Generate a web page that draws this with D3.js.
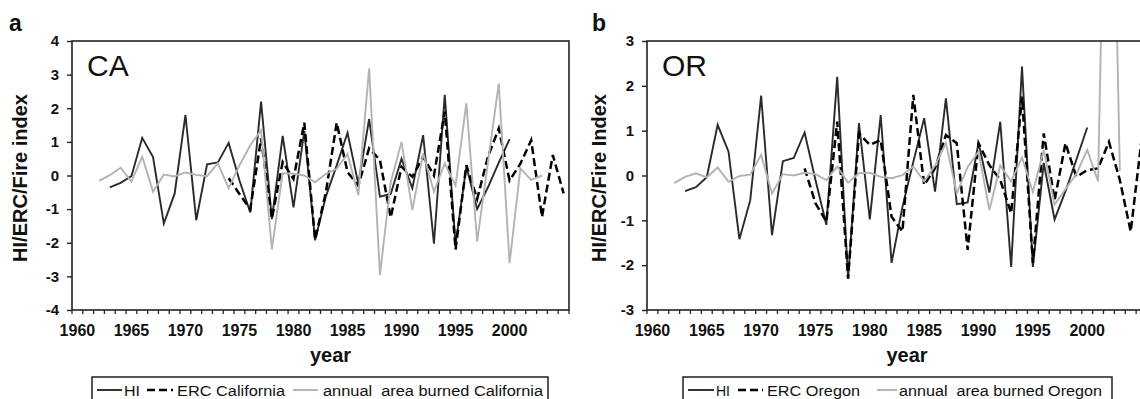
<!DOCTYPE html>
<html><head><meta charset="utf-8">
<script src="https://cdn.jsdelivr.net/npm/d3@7"></script>
<style>
body{margin:0;background:#fff}
svg{display:block}
text{font-family:"Liberation Sans",Arial,Helvetica,sans-serif;fill:#111}
</style>
</head><body>
<svg id="c" width="1140" height="399"></svg>
<script>
// ---- data ----
const years = [1960,1961,1962,1963,1964,1965,1966,1967,1968,1969,
  1970,1971,1972,1973,1974,1975,1976,1977,1978,1979,
  1980,1981,1982,1983,1984,1985,1986,1987,1988,1989,
  1990,1991,1992,1993,1994,1995,1996,1997,1998,1999,
  2000,2001,2002,2003,2004,2005];
const xTickLabels = [1960,1965,1970,1975,1980,1985,1990,1995,2000];
const yTicksCA = [-4,-3,-2,-1,0,1,2,3,4];
const yTicksOR = [-3,-2,-1,0,1,2,3];

// California panel (values indexed by years, null = no data)
const hiCA = [null,null,null,-0.35,-0.22,-0.02,1.12,0.55,-1.43,-0.54,
  1.80,-1.33,0.33,0.39,0.97,-0.15,-1.10,2.20,-1.30,1.18,
  -0.95,1.32,-1.93,-0.62,0.30,1.27,-0.25,1.68,-0.63,-0.55,
  0.50,-0.38,1.20,-2.03,2.40,-2.05,0.27,-1.00,-0.35,0.38,
  1.08,null,null,null,null,null];
const ercCA = [null,null,null,null,null,null,null,null,null,null,
  null,null,null,null,-0.08,-0.55,-1.00,1.10,-1.28,0.40,
  -0.10,1.57,-1.90,-0.50,1.57,0.10,-0.30,0.81,0.46,-1.25,
  0.26,-0.04,0.56,0.00,1.90,-2.20,0.31,-0.70,0.56,1.40,
  -0.15,0.35,1.05,-1.23,0.61,-0.53];
const areaCA = [null,null,-0.16,0.01,0.23,-0.18,0.56,-0.48,0.03,-0.03,
  0.09,0.02,-0.02,0.36,-0.38,0.30,0.90,1.35,-2.20,0.07,
  0.05,0.00,-0.20,0.05,0.20,0.64,-0.58,3.19,-2.96,-0.20,
  1.00,-1.03,0.66,-0.48,0.36,-0.30,2.15,-1.97,0.40,2.74,
  -2.61,0.21,-0.13,0.00,null,null];

// Oregon panel
const hiOR = [null,null,null,-0.35,-0.26,-0.04,1.13,0.53,-1.42,-0.55,
  1.78,-1.33,0.32,0.39,0.96,-0.10,-1.10,2.20,-2.30,1.17,
  -0.98,1.35,-1.95,-0.70,0.30,1.28,-0.36,1.72,-0.64,-0.60,
  0.73,-0.38,1.20,-2.04,2.43,-2.04,0.28,-0.98,-0.35,0.35,
  1.07,null,null,null,null,null];
const ercOR = [null,null,null,null,null,null,null,null,null,null,
  null,null,null,null,0.16,-0.62,-1.03,1.20,-2.30,0.94,
  0.68,0.79,-0.92,-1.25,1.80,-0.21,0.16,0.90,0.72,-1.66,
  0.72,0.23,-0.10,-0.84,1.76,-1.95,0.94,-0.55,0.72,-0.03,
  0.12,0.16,0.75,-0.10,-1.25,0.80];
const areaOR = [null,null,-0.17,-0.03,0.05,-0.04,0.18,-0.14,-0.01,0.02,
  0.46,-0.40,0.03,0.00,0.06,0.03,-0.10,0.20,-0.16,0.05,
  0.06,-0.03,-0.06,0.01,0.20,-0.13,0.22,0.72,-0.40,0.19,
  0.53,-0.77,0.22,-0.13,0.40,-0.37,0.57,-0.65,-0.30,0.03,
  0.57,-0.13,12.0,0.10,null,null];

const legendCA = ["HI","ERC California","annual  area burned California"];
const legendOR = ["HI","ERC Oregon","annual  area burned Oregon"];

// ---- drawing ----
const svg = d3.select("#c");
const styles = [
  {stroke:"#2a2a2a", width:1.9, dash:null},
  {stroke:"#000", width:2.5, dash:"8,4"},
  {stroke:"#b3b3b3", width:1.9, dash:null}
];

function panel(cfg){
  const g = svg.append("g");
  const x = d3.scaleBand().domain(years).range([cfg.left, cfg.right]).padding(0);
  const bw = x.bandwidth();
  const y = d3.scaleLinear().domain(cfg.yDomain).range([cfg.bottom, cfg.top]);

  const clipId = "clip" + cfg.id;
  svg.append("clipPath").attr("id", clipId).append("rect")
    .attr("x", cfg.left).attr("y", cfg.top)
    .attr("width", cfg.right - cfg.left).attr("height", cfg.bottom - cfg.top);

  // series
  const line = d3.line()
    .defined(d => d.v != null)
    .x(d => x(d.year) + bw/2)
    .y(d => y(d.v));
  cfg.series.forEach((vals, i) => {
    const pts = years.map((yr, k) => ({year: yr, v: vals[k]}));
    g.append("path").datum(pts)
      .attr("clip-path", `url(#${clipId})`)
      .attr("fill","none")
      .attr("stroke", styles[i].stroke)
      .attr("stroke-width", styles[i].width)
      .attr("stroke-dasharray", styles[i].dash)
      .attr("stroke-linejoin","miter")
      .attr("d", line);
  });

  // frame
  g.append("rect").attr("x", cfg.left).attr("y", cfg.top)
    .attr("width", cfg.right - cfg.left).attr("height", cfg.bottom - cfg.top)
    .attr("fill","none").attr("stroke","#222").attr("stroke-width",1.6);

  // y axis
  const ya = d3.axisLeft(y).tickValues(cfg.yTicks).tickSize(5).tickPadding(8)
    .tickFormat(d => String(d));
  const yg = g.append("g").attr("transform", `translate(${cfg.left},0)`).call(ya);
  yg.select(".domain").remove();
  yg.selectAll(".tick line").attr("stroke","#222").attr("stroke-width",1.4);
  yg.selectAll(".tick text").attr("font-size",15).attr("font-weight","bold")
    .attr("font-family",'"Liberation Sans",Arial,sans-serif').attr("fill","#111");

  // x axis ticks at category boundaries
  const bounds = years.map(yr => x(yr)).concat([x(years[years.length-1]) + bw]);
  g.selectAll(".xt").data(bounds).enter().append("line")
    .attr("x1", d => d).attr("x2", d => d)
    .attr("y1", cfg.bottom).attr("y2", cfg.bottom + 4)
    .attr("stroke","#222").attr("stroke-width",1.3);
  g.selectAll(".xl").data(xTickLabels).enter().append("text")
    .attr("x", d => x(d) + bw/2).attr("y", cfg.bottom + 26)
    .attr("text-anchor","middle").attr("font-size",16).attr("font-weight","bold")
    .text(d => d);

  // axis titles
  g.append("text").attr("x", (cfg.left + cfg.right)/2 + 10).attr("y", 362)
    .attr("text-anchor","middle").attr("font-size",20).attr("font-weight","bold")
    .text("year");
  g.append("text")
    .attr("transform", `translate(${cfg.ytitleX},178) rotate(-90)`)
    .attr("text-anchor","middle").attr("font-size",20).attr("font-weight","bold")
    .text(cfg.ytitle);

  // panel letter and region label
  g.append("text").attr("x", cfg.letterX).attr("y", 31)
    .attr("font-size",23).attr("font-weight","bold").text(cfg.letter);
  g.append("text").attr("x", cfg.left + 15).attr("y", 76)
    .attr("font-size",30).text(cfg.region);

  // legend
  const L = cfg.legend;
  g.append("rect").attr("x", L.x).attr("y", 377).attr("width", L.w).attr("height", 30)
    .attr("fill","#fff").attr("stroke","#111").attr("stroke-width",1.4);
  L.items.forEach((it, i) => {
    g.append("line").attr("x1", it.l0).attr("x2", it.l1).attr("y1", 390).attr("y2", 390)
      .attr("stroke", styles[i].stroke).attr("stroke-width", styles[i].width)
      .attr("stroke-dasharray", styles[i].dash);
    g.append("text").attr("x", it.tx).attr("y", 396)
      .attr("font-size",14).attr("textLength", it.tw).attr("lengthAdjust","spacingAndGlyphs")
      .style("white-space","pre")
      .text(cfg.legendText[i]);
  });
}

panel({
  id:"a", left:72, right:569, top:41, bottom:310,
  yDomain:[-4,4], yTicks:yTicksCA,
  series:[hiCA, ercCA, areaCA],
  ytitle:"HI/ERC/Fire index", ytitleX:27,
  letter:"a", letterX:9, region:"CA",
  legendText: legendCA,
  legend:{x:92, w:456, items:[
    {l0:97,l1:122,tx:124,tw:16},
    {l0:147,l1:173,tx:177,tw:108},
    {l0:293,l1:318,tx:323,tw:220}]}
});
panel({
  id:"b", left:647, right:1147, top:41, bottom:310,
  yDomain:[-3,3], yTicks:yTicksOR,
  series:[hiOR, ercOR, areaOR],
  ytitle:"HI/ERC/Fire Index", ytitleX:606,
  letter:"b", letterX:592, region:"OR",
  legendText: legendOR,
  legend:{x:683, w:429, items:[
    {l0:688,l1:714,tx:716,tw:14},
    {l0:738,l1:763,tx:767,tw:93},
    {l0:877,l1:897,tx:899,tw:203}]}
});
</script>
</body></html>
